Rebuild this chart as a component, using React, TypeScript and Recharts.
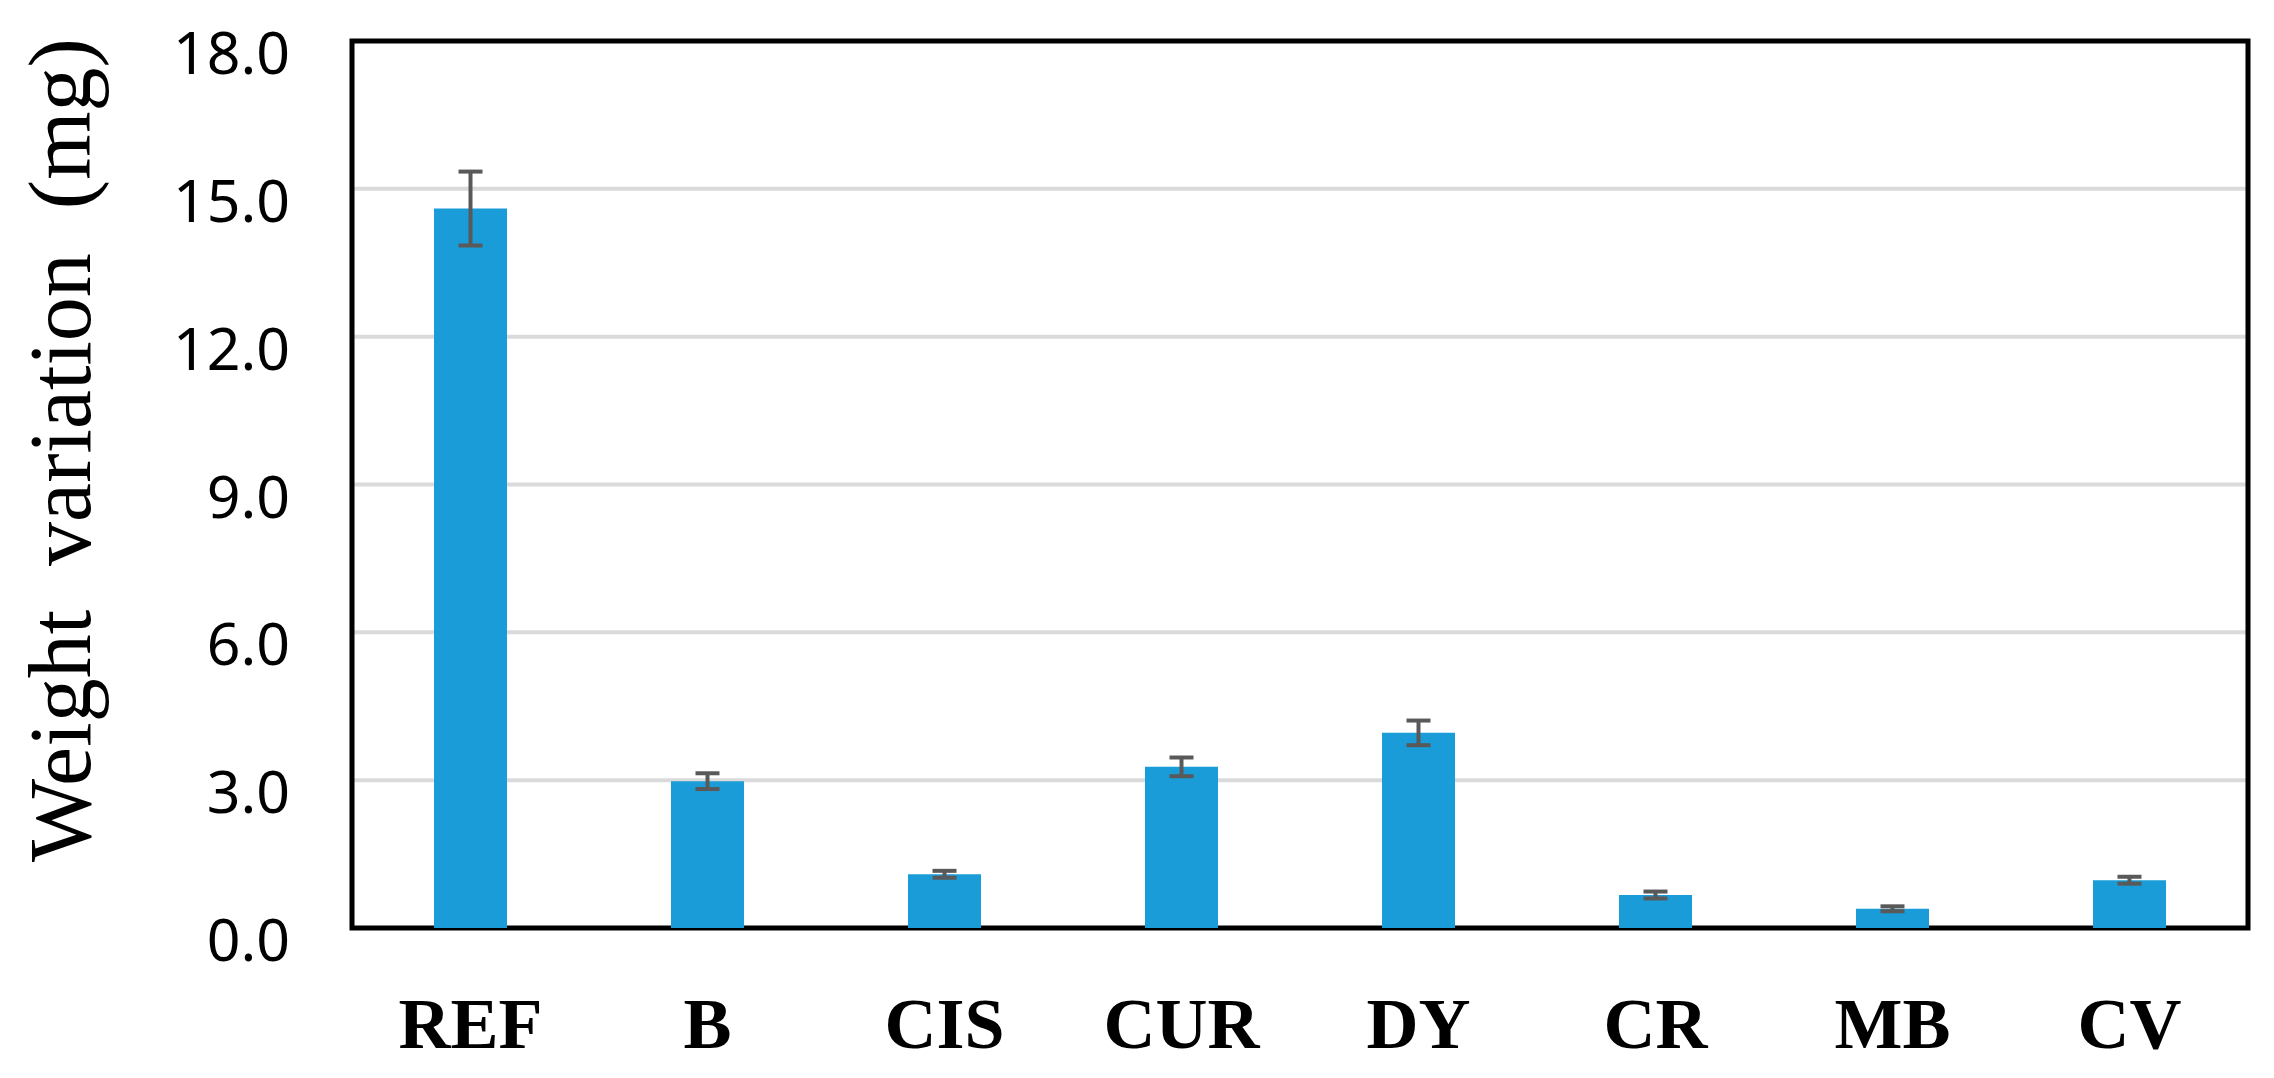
import React from "react";
import {
  BarChart,
  Bar,
  XAxis,
  YAxis,
  CartesianGrid,
  ErrorBar,
  ReferenceArea,
  Label,
} from "recharts";

const categories = ["REF", "B", "CIS", "CUR", "DY", "CR", "MB", "CV"];
const values = [14.6, 2.98, 1.09, 3.27, 3.96, 0.67, 0.39, 0.97];
const errors = [0.75, 0.16, 0.07, 0.19, 0.25, 0.07, 0.05, 0.07];
const yTicks = [0, 3, 6, 9, 12, 15, 18];
const yTitle = "Weight\u00a0\u00a0variation\u00a0\u00a0(mg)";

const data = categories.map((c, i) => ({ name: c, value: values[i], err: errors[i] }));

const YTick = (props: any) => {
  const { x, y, payload } = props;
  return (
    <text
      x={x}
      y={y + 10}
      textAnchor="end"
      dominantBaseline="central"
      fontFamily="'Noto Sans', sans-serif"
      fontSize={59}
      fill="#000"
    >
      {Number(payload.value).toFixed(1)}
    </text>
  );
};

const XTick = (props: any) => {
  const { x, y, payload } = props;
  return (
    <text
      x={x}
      y={y + 94}
      textAnchor="middle"
      dominantBaseline="central"
      fontFamily="'Liberation Serif', 'Times New Roman', serif"
      fontWeight="bold"
      fontSize={72}
      fill="#000"
    >
      {payload.value}
    </text>
  );
};

export default function App() {
  return (
    <BarChart
      width={2258}
      height={1062}
      data={data}
      margin={{ top: 33, right: 18, bottom: 0, left: 0 }}
      barSize={73}
    >
      <CartesianGrid
        horizontal
        vertical={false}
        stroke="#dadada"
        strokeWidth={4}
      />
      <XAxis
        dataKey="name"
        height={142}
        tickLine={false}
        tickSize={0}
        axisLine={false}
        tick={<XTick />}
        interval={0}
      />
      <YAxis
        width={344}
        domain={[0, 18]}
        ticks={yTicks}
        tickLine={false}
        tickSize={0}
        tickMargin={62}
        axisLine={false}
        tick={<YTick />}
        interval={0}
      >
        <Label
          value={yTitle}
          angle={-90}
          position="insideLeft"
          content={(p: any) => {
            const cy = 442;
            return (
              <text
                x={52}
                y={cy}
                transform={`rotate(-90, 52, ${cy})`}
                textAnchor="middle"
                dominantBaseline="central"
                fontFamily="'Liberation Serif', 'Times New Roman', serif"
                fontSize={88}
                fill="#000"
              >
                {yTitle}
              </text>
            );
          }}
        />
      </YAxis>
      <Bar dataKey="value" fill="#1a9cd8" isAnimationActive={false}>
        <ErrorBar
          dataKey="err"
          direction="y"
          width={12}
          stroke="#595959"
          strokeWidth={4}
          isAnimationActive={false}
        />
      </Bar>
      <ReferenceArea
        y1={0}
        y2={18}
        fill="none"
        stroke="#000"
        strokeWidth={5}
        ifOverflow="visible"
      />
    </BarChart>
  );
}
